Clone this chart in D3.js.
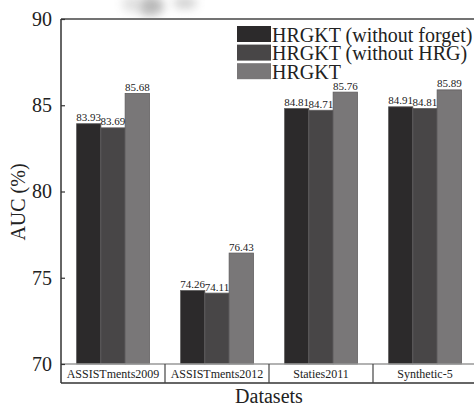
<!DOCTYPE html>
<html>
<head>
<meta charset="utf-8">
<script src="https://cdn.jsdelivr.net/npm/d3@7"></script>
<style>
  body { margin: 0; background: #fff; }
  svg text { font-family: "Liberation Serif", "Times New Roman", Times, "DejaVu Serif", serif; }
</style>
</head>
<body>
<svg width="474" height="408"></svg>
<script>
  const datasets = ['ASSISTments2009', 'ASSISTments2012', 'Staties2011', 'Synthetic-5'];
  const series = ['HRGKT (without forget)', 'HRGKT (without HRG)', 'HRGKT'];
  const withoutForget = [83.93, 74.26, 84.81, 84.91];
  const withoutHRG = [83.69, 74.11, 84.71, 84.81];
  const hrgkt = [85.68, 76.43, 85.76, 85.89];
  const yTicks = [70, 75, 80, 85, 90];

  (function () {
  'use strict';

  const colors = ['#2c2a2b', '#484647', '#797778'];
  const values = [withoutForget, withoutHRG, hrgkt];

  const svg = d3.select('svg');
  const plotLeft = 61, plotRight = 477, plotTop = 19, plotBottom = 364, boxBottom = 383;

  // faint watermark smudge at the top
  const defs = svg.append('defs');
  defs.append('filter').attr('id', 'blur')
    .append('feGaussianBlur').attr('stdDeviation', 5);
  const wm = svg.append('g').attr('filter', 'url(#blur)').attr('opacity', 0.45);
  wm.append('ellipse').attr('cx', 150).attr('cy', 6).attr('rx', 14).attr('ry', 10).attr('fill', '#666');
  wm.append('ellipse').attr('cx', 185).attr('cy', 3).attr('rx', 12).attr('ry', 6).attr('fill', '#999');
  wm.append('ellipse').attr('cx', 132).attr('cy', 4).attr('rx', 10).attr('ry', 8).attr('fill', '#bbb');

  const y = d3.scaleLinear().domain([70, 90]).range([plotBottom, plotTop]);
  const x0 = d3.scaleBand().domain(datasets).range([plotLeft, plotRight])
    .paddingInner(0.3).paddingOuter(0.15);
  const x1 = d3.scaleBand().domain(series).range([0, x0.bandwidth()]);
  const xCat = d3.scaleBand().domain(datasets).range([plotLeft, plotRight]);

  // bars
  const groups = svg.selectAll('g.group').data(datasets)
    .enter().append('g')
      .attr('class', 'group')
      .attr('transform', d => `translate(${x0(d)},0)`);

  groups.selectAll('rect')
    .data((d, i) => series.map((s, j) => ({ s, j, v: values[j][i] })))
    .enter().append('rect')
      .attr('x', d => x1(d.s))
      .attr('y', d => y(d.v))
      .attr('width', x1.bandwidth())
      .attr('height', d => plotBottom - y(d.v))
      .attr('fill', d => colors[d.j])
      .attr('stroke', '#5e5c5d')
      .attr('stroke-width', 0.8);

  groups.selectAll('text')
    .data((d, i) => series.map((s, j) => ({ s, j, v: values[j][i] })))
    .enter().append('text')
      .attr('x', d => x1(d.s) + x1.bandwidth() / 2)
      .attr('y', d => y(d.v) - 2.5)
      .attr('text-anchor', 'middle')
      .attr('font-size', 11)
      .attr('fill', '#222')
      .text(d => d.v.toFixed(2));

  // frame lines
  svg.append('line').attr('x1', plotLeft).attr('x2', plotRight).attr('y1', plotTop).attr('y2', plotTop)
    .attr('stroke', '#444').attr('stroke-width', 1.5);
  svg.append('line').attr('x1', plotLeft).attr('x2', plotRight).attr('y1', plotBottom).attr('y2', plotBottom)
    .attr('stroke', '#999').attr('stroke-width', 1.5);
  svg.append('line').attr('x1', plotLeft).attr('x2', plotRight).attr('y1', boxBottom).attr('y2', boxBottom)
    .attr('stroke', '#333').attr('stroke-width', 1.5);

  // y axis
  const yAxis = svg.append('g')
    .attr('transform', `translate(${plotLeft},0)`)
    .call(d3.axisLeft(y).tickValues(yTicks).tickSize(-4).tickPadding(9));
  yAxis.attr('font-family', null);
  yAxis.select('.domain').attr('stroke', '#333').attr('stroke-width', 1.5)
    .attr('d', `M0,${plotTop}V${boxBottom}`);
  yAxis.selectAll('.tick line').attr('stroke', '#333').attr('stroke-width', 1.2);
  yAxis.selectAll('.tick text')
    .attr('font-size', 20).attr('fill', '#222');

  // category boxes
  const cats = svg.append('g');
  cats.selectAll('line').data(datasets.slice(1))
    .enter().append('line')
      .attr('x1', d => xCat(d)).attr('x2', d => xCat(d))
      .attr('y1', plotBottom).attr('y2', boxBottom)
      .attr('stroke', '#444').attr('stroke-width', 1.2);
  cats.selectAll('text').data(datasets)
    .enter().append('text')
      .attr('x', d => xCat(d) + xCat.bandwidth() / 2)
      .attr('y', 378)
      .attr('text-anchor', 'middle')
      .attr('font-size', 12)
      .attr('fill', '#222')
      .text(d => d);

  // axis titles
  svg.append('text')
    .attr('transform', 'translate(25,202) rotate(-90)')
    .attr('text-anchor', 'middle')
    .attr('font-size', 20)
    .attr('fill', '#222')
    .text('AUC (%)');
  svg.append('text')
    .attr('x', 269).attr('y', 403)
    .attr('text-anchor', 'middle')
    .attr('font-size', 20)
    .attr('fill', '#222')
    .text('Datasets');

  // legend
  const legend = svg.append('g').attr('transform', 'translate(237,26)');
  const items = legend.selectAll('g').data(series)
    .enter().append('g')
      .attr('transform', (d, i) => `translate(0,${i * 18.6})`);
  items.append('rect')
    .attr('width', 34).attr('height', 16)
    .attr('fill', (d, i) => colors[i]);
  items.append('text')
    .attr('x', 35).attr('y', 15.5)
    .attr('font-size', 20)
    .attr('fill', '#222')
    .text(d => d);
  }());
</script>
</body>
</html>
